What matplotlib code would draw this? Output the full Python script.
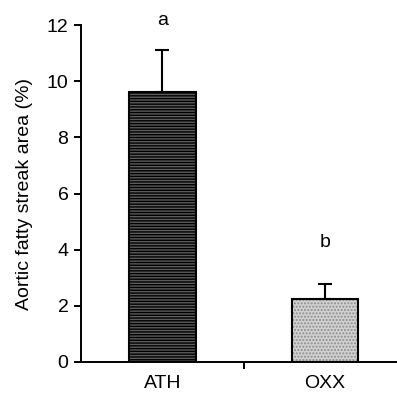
import numpy as np
import matplotlib
matplotlib.use('Agg')
import matplotlib.pyplot as plt

plt.rcParams['font.family'] = ['Liberation Sans', 'DejaVu Sans']
plt.rcParams['hatch.linewidth'] = 1.0

groups = ['ATH', 'OXX']
means = [9.62, 2.24]
err_up = [1.49, 0.55]
letters = ['a', 'b']
letter_y = [12.15, 4.27]

x = np.arange(len(groups))

fig = plt.figure(figsize=(3.97, 3.95), dpi=100)
ax = fig.add_axes([81/397, 1 - 362/395, 1 - 81/397, (362 - 25)/395])

w = 0.41
# fill + hatch (hatch colour comes from edgecolor), then black outline on top
ax.bar(x[0], means[0], w, color='#5c5c5c', edgecolor='black', hatch='------', lw=0)
ax.bar(x[1], means[1], w, color='#d2d2d2', edgecolor='#8c8c8c', hatch='.....', lw=0)
ax.bar(x, means, w, fill=False, edgecolor='black', lw=1.5, zorder=3)

ax.errorbar(x, means, yerr=[[0, 0], err_up], fmt='none', ecolor='black',
            elinewidth=1.5, capsize=4.7, capthick=1.5, zorder=2)

for xi, t, ty in zip(x, letters, letter_y):
    ax.text(xi, ty, t, ha='center', va='center', fontsize=14)

ax.set_ylim(0, 12)
ax.set_xlim(-0.5, 1.443)
ax.set_yticks(np.arange(0, 13, 2))
ax.set_xticks(x)
ax.set_xticklabels(groups)
ax.set_xticks([0.5], minor=True)
ax.tick_params(axis='x', which='major', length=0, pad=9, labelsize=14)
ax.tick_params(axis='x', which='minor', length=5, width=1.4, direction='out')
ax.tick_params(axis='y', length=5, width=1.4, direction='out', labelsize=14, pad=4)
ax.set_ylabel('Aortic fatty streak area (%)', fontsize=14, labelpad=10)

for s in ['top', 'right']:
    ax.spines[s].set_visible(False)
for s in ['left', 'bottom']:
    ax.spines[s].set_linewidth(1.4)
ax.spines['bottom'].set_clip_on(False)

fig.savefig('out.png', dpi=100)
